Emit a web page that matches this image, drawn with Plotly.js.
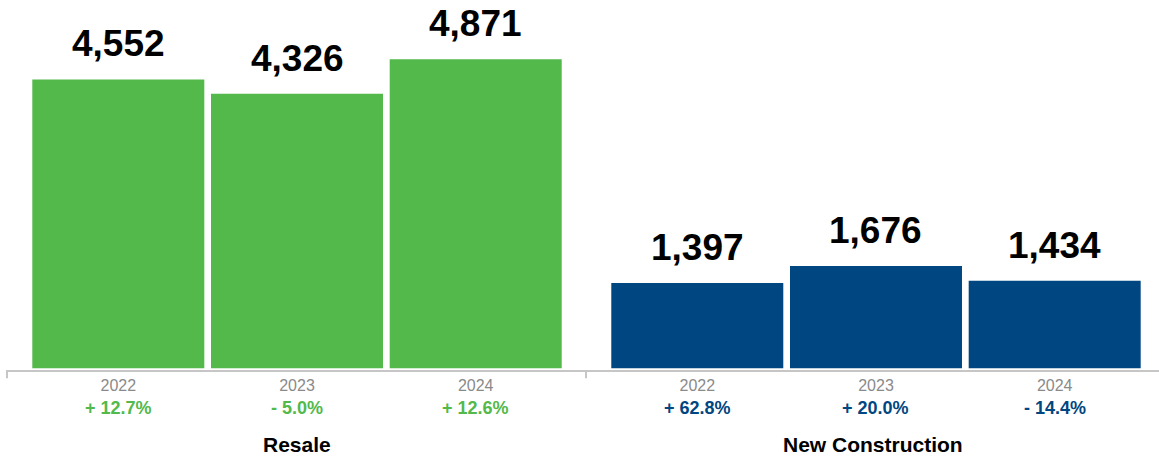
<!DOCTYPE html>
<html>
<head>
<meta charset="utf-8">
<script src="https://cdn.plot.ly/plotly-3.0.1.min.js"></script>
<style>
  html, body { margin: 0; padding: 0; background: #ffffff; }
  #chart { width: 1159px; height: 458px; }
</style>
</head>
<body>
<div id="chart"></div>
<script>
// ---- Data ----
const years = ['2022', '2023', '2024'];
const groupNames = ['Resale', 'New Construction'];
const resaleValues = [4552, 4326, 4871];
const newConstructionValues = [1397, 1676, 1434];
const resaleChange = ['+ 12.7%', '- 5.0%', '+ 12.6%'];
const newConstructionChange = ['+ 62.8%', '+ 20.0%', '- 14.4%'];

// ---- Style ----
const GREEN = '#52B94A';
const BLUE = '#004680';
const FONT = '"Liberation Sans", Arial, Helvetica, sans-serif';
const AXIS_GRAY = '#c6c6c6';
const SPLIT = 579 / 1152;

const fmt = v => v.toLocaleString('en-US');

const traces = [
  {
    type: 'bar', x: years, y: resaleValues, xaxis: 'x', yaxis: 'y',
    marker: { color: GREEN }, hoverinfo: 'none', showlegend: false
  },
  {
    type: 'bar', x: years, y: newConstructionValues, xaxis: 'x2', yaxis: 'y2',
    marker: { color: BLUE }, hoverinfo: 'none', showlegend: false
  }
];

const annotations = [];
function addGroup(values, changes, color, xr, yr, title) {
  values.forEach((v, i) => {
    // category index of years[i] on the category axis
    const xi = years.indexOf(years[i]);
    annotations.push({
      xref: xr, yref: yr, x: xi, y: v, yanchor: 'bottom', yshift: 13,
      text: '<b>' + fmt(v) + '</b>', showarrow: false,
      font: { family: FONT, size: 37, color: '#000000' }
    });
    annotations.push({
      xref: xr, yref: 'paper', x: xi, y: 0, yanchor: 'middle', yshift: -38,
      text: '<b>' + changes[i] + '</b>', showarrow: false,
      font: { family: FONT, size: 18, color: color }
    });
  });
  annotations.push({
    xref: xr + ' domain', yref: 'paper', x: 0.5, y: 0, yanchor: 'middle', yshift: -74,
    text: '<b>' + title + '</b>', showarrow: false,
    font: { family: FONT, size: 21, color: '#000000' }
  });
}
addGroup(resaleValues, resaleChange, GREEN, 'x', 'y', groupNames[0]);
addGroup(newConstructionValues, newConstructionChange, BLUE, 'x2', 'y2', groupNames[1]);

const xBase = {
  type: 'category', showline: true, linecolor: AXIS_GRAY, linewidth: 2,
  ticks: '', showgrid: false, zeroline: false, fixedrange: true,
  tickfont: { family: FONT, size: 16, color: '#8a8a8a' }
};
const yBase = {
  visible: false, showgrid: false, zeroline: false, fixedrange: true
};

const tickShape = x => ({
  type: 'line', xref: 'paper', yref: 'paper', x0: x, x1: x, y0: 0, y1: -0.022,
  line: { color: AXIS_GRAY, width: 2 }
});

const layout = {
  width: 1159, height: 458,
  margin: { l: 7, r: 0, t: 0, b: 88, pad: 0 },
  paper_bgcolor: '#ffffff', plot_bgcolor: '#ffffff',
  font: { family: FONT },
  bargap: 0.0375,
  showlegend: false,
  xaxis: Object.assign({}, xBase, { domain: [0, SPLIT], range: [-0.6228, 2.6172], anchor: 'y' }),
  xaxis2: Object.assign({}, xBase, { domain: [SPLIT, 1], range: [-0.6228, 2.5837], anchor: 'y2' }),
  yaxis: Object.assign({}, yBase, { range: [-27, 5804], anchor: 'x' }),
  yaxis2: Object.assign({}, yBase, { range: [-28, 6040], anchor: 'x2' }),
  annotations: annotations,
  shapes: [tickShape(0), tickShape(SPLIT)]
};

Plotly.newPlot('chart', traces, layout, { displayModeBar: false, staticPlot: true });
</script>
</body>
</html>
